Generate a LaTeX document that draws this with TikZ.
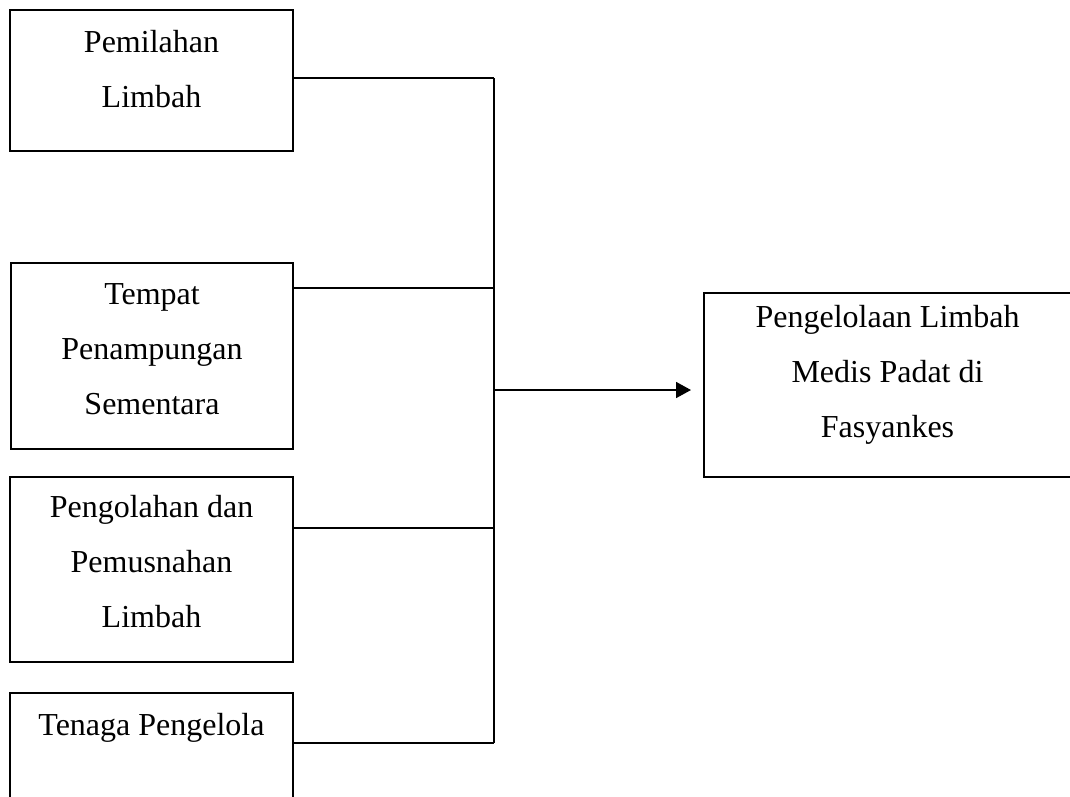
\documentclass[tikz,border=0pt]{standalone}
\usepackage{fontspec}
\setmainfont{Liberation Serif}
\usetikzlibrary{arrows.meta}
\begin{document}
\begin{tikzpicture}[x=1pt,y=-1pt,
  box/.style={draw=black, line width=2pt, rectangle, inner sep=0pt, fill=none},
  lbl/.style={anchor=north, inner sep=0pt, align=center, font=\fontsize{32}{55}\selectfont},
  conn/.style={draw=black, line width=1.7pt},
  arr/.style={conn, -{Triangle[length=15pt,width=16pt]}, shorten >=12pt}]
\useasboundingbox (0,0) rectangle (1070,796);
\fill[white] (0,0) rectangle (1070,796);
% boxes
\node[box, minimum width=283pt, minimum height=141pt] (b1) at (151.5,80.5) {};
\node[box, minimum width=282pt, minimum height=186pt] (b2) at (152,356) {};
\node[box, minimum width=283pt, minimum height=185pt] (b3) at (151.5,569.5) {};
\node[box, minimum width=283pt, minimum height=109pt] (b4) at (151.5,747.5) {};
\node[box, minimum width=367pt, minimum height=184pt] (b5) at (887.5,385) {};
% labels
\node[lbl] (t1) at (151.5,13.5) {\strut Pemilahan\\Limbah};
\node[lbl] (t2) at (152,265.5) {\strut Tempat\\Penampungan\\Sementara};
\node[lbl] (t3) at (151.5,478.5) {\strut Pengolahan dan\\Pemusnahan\\Limbah};
\node[lbl] (t4) at (151.5,696.5) {\strut Tenaga Pengelola};
\node[lbl] (t5) at (887.5,288.5) {\strut Pengelolaan Limbah\\Medis Padat di\\Fasyankes};
% junctions
\coordinate (j1) at (494,78);
\coordinate (j2) at (494,288);
\coordinate (j3) at (494,528);
\coordinate (j4) at (494,743);
\coordinate (jm) at (494,390);
% connectors
\draw[conn] (b1.east |- j1) -- (j1);
\draw[conn] (b2.east |- j2) -- (j2);
\draw[conn] (b3.east |- j3) -- (j3);
\draw[conn] (b4.east |- j4) -- (j4);
\draw[conn] (j1) -- (j4);
\draw[arr] (jm) -- (b5.west |- jm);
\end{tikzpicture}
\end{document}
